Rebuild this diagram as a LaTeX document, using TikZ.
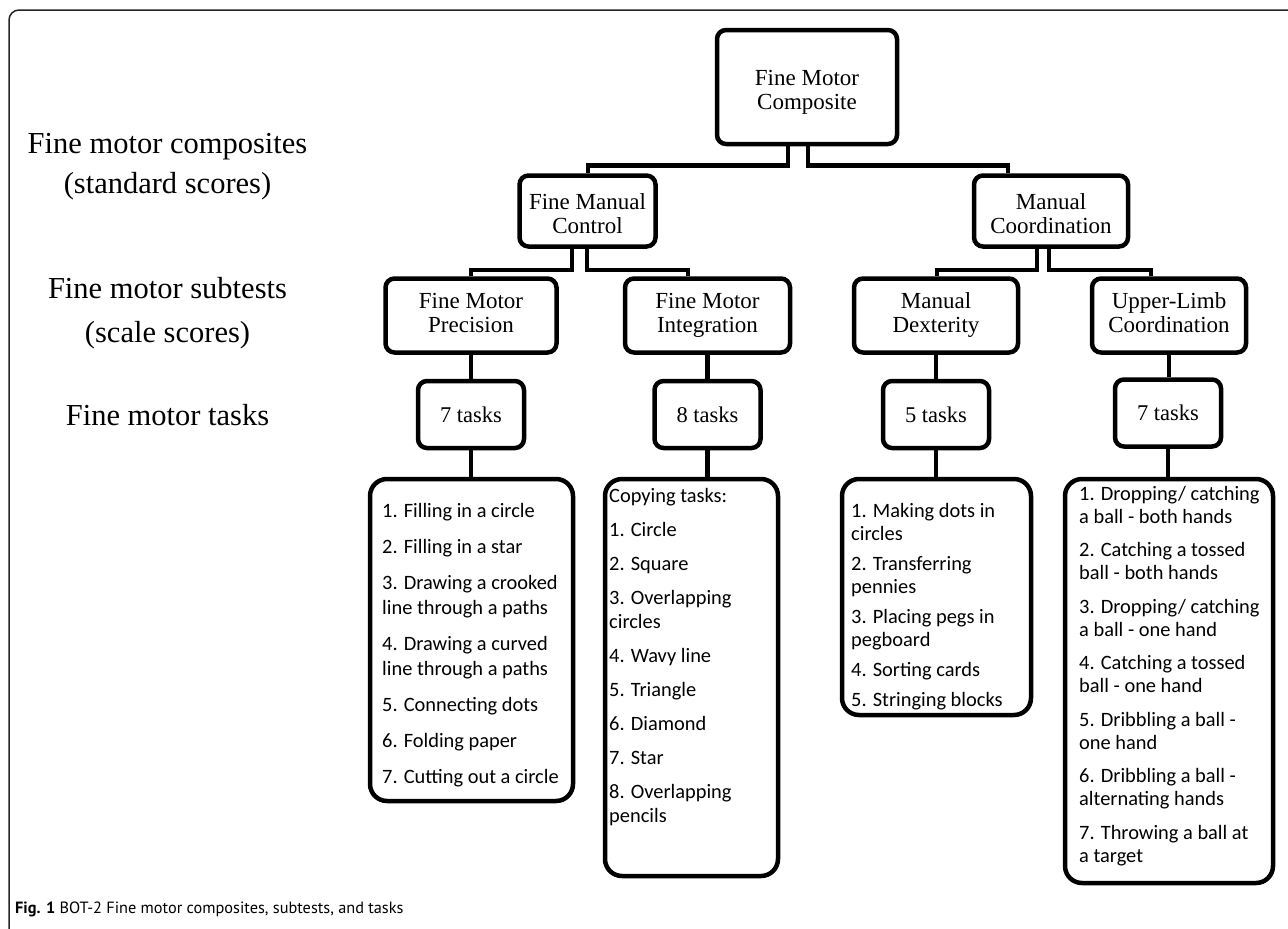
\documentclass[tikz,border=0pt]{standalone}
\usepackage{fontspec}
\setmainfont{Liberation Serif}
\newfontfamily\carlito{Carlito}
\newfontfamily\capfont{PT Sans}
\newcommand\bxstrut{\rule[-6pt]{0pt}{26pt}}
\newcommand\bxhigh{\rule{0pt}{26pt}}
\begin{document}
\begin{tikzpicture}[x=1pt,y=-1pt,
  box/.style={draw=black, line width=4.5pt, rounded corners=9pt, fill=white, inner sep=0pt,
    align=center, font=\fontsize{23}{24}\selectfont,
    execute at begin node=\bxstrut, execute at end node=\bxstrut},
  taskbox/.style={draw=black, line width=4.5pt, rounded corners=9pt, fill=white, inner sep=0pt,
    minimum width=106pt, minimum height=67pt, font=\fontsize{22.5}{24}\selectfont},
  listbox/.style={draw=black, line width=4.5pt, rounded corners=17pt, fill=white, inner sep=0pt},
  listtext/.style={anchor=north west, inner sep=0pt, align=left, font=\carlito\fontsize{20.4}{24}\selectfont},
  conn/.style={draw=black, line width=4.5pt},
  sidelabel/.style={anchor=base, inner sep=0pt, font=\fontsize{30.5}{34}\selectfont},
  frameline/.style={draw=black!85, line width=1.5pt, rounded corners=10pt}]
\useasboundingbox (0,0) rectangle (1288,929);
\fill[white] (0,0) rectangle (1288,929);
\draw[frameline] (9,929) -- (9,10) -- (1288,10);

% left labels
\node[sidelabel] (la1) at (167.5,153) {Fine motor composites};
\node[sidelabel] (la2) at (167.5,193) {(standard scores)};
\node[sidelabel] (lb1) at (167.5,298) {Fine motor subtests};
\node[sidelabel] (lb2) at (167.5,342) {(scale scores)};
\node[sidelabel] (lc1) at (167.5,425) {Fine motor tasks};

% hierarchy boxes
\node[box, minimum width=180pt, minimum height=114pt] (comp) at (807,87) {\bxhigh Fine Motor\\Composite};
\node[box, minimum width=136pt, minimum height=71pt] (fmc) at (587.5,211) {\bxhigh Fine Manual\\Control};
\node[box, minimum width=154pt, minimum height=71pt] (mc) at (1051,211) {\bxhigh Manual\\Coordination};
\node[box, minimum width=171pt, minimum height=74pt] (fmp) at (471,315.5) {Fine Motor\\Precision};
\node[box, minimum width=165pt, minimum height=74pt] (fmi) at (707.5,315.5) {Fine Motor\\Integration};
\node[box, minimum width=164pt, minimum height=74pt] (md) at (936,315.5) {Manual\\Dexterity};
\node[box, minimum width=154pt, minimum height=74pt] (ulc) at (1169,315.5) {Upper-Limb\\Coordination};

\node[taskbox] (t1) at (471,414.5) {7 tasks};
\node[taskbox] (t2) at (707.5,414.5) {8 tasks};
\node[taskbox] (t3) at (936,414.5) {5 tasks};
\node[taskbox] (t4) at (1168,413) {7 tasks};

% list boxes
\node[listbox, minimum width=203pt, minimum height=322pt] (L1) at (471.5,640) {};
\node[listbox, minimum width=173pt, minimum height=397pt] (L2) at (691.5,677.5) {};
\node[listbox, minimum width=189pt, minimum height=236pt] (L3) at (936.5,597) {};
\node[listbox, minimum width=208pt, minimum height=404pt] (L4) at (1169,681) {};

% connectors
\draw[conn] ([xshift=-19pt]comp.south) -- ++(0,19) -| ([xshift=0.5pt]fmc.north);
\draw[conn] ([xshift=1pt]comp.south) -- ++(0,19) -| ([xshift=-43pt]mc.north);
\draw[conn] ([xshift=-15.5pt]fmc.south) -- ++(0,21) -| (fmp.north);
\draw[conn] ([xshift=-0.5pt]fmc.south) -- ++(0,21) -| ([xshift=-19.5pt]fmi.north);
\draw[conn] ([xshift=-14pt]mc.south) -- ++(0,21) -| ([xshift=1pt]md.north);
\draw[conn] ([xshift=-2pt]mc.south) -- ++(0,21) -| ([xshift=-18pt]ulc.north);

\draw[conn] (fmp.south) -- (fmp.south |- t1.north);
\draw[conn] (fmi.south) -- (fmi.south |- t2.north);
\draw[conn] (md.south) -- (md.south |- t3.north);
\draw[conn] (ulc.south) -- (ulc.south |- t4.north);
\draw[conn] (t1.south) -- (t1.south |- L1.north);
\draw[conn] (t2.south) -- (t2.south |- L2.north);
\draw[conn] (t3.south) -- (t3.south |- L3.north);
\draw[conn] (t4.south) -- (t4.south |- L4.north);

% list texts
\node[listtext, font=\carlito\fontsize{20.4}{25}\selectfont] (x1) at (382,503) {1. Filling in a circle\\[11pt]
2. Filling in a star\\[11pt]
3. Drawing a crooked\\line through a paths\\[11pt]
4. Drawing a curved\\line through a paths\\[11pt]
5. Connecting dots\\[11pt]
6. Folding paper\\[11pt]
7. Cutting out a circle};

\node[listtext] (x2) at (609,488) {Copying tasks:\\[10pt]
1. Circle\\[10pt]
2. Square\\[10pt]
3. Overlapping\\circles\\[10pt]
4. Wavy line\\[10pt]
5. Triangle\\[10pt]
6. Diamond\\[10pt]
7. Star\\[10pt]
8. Overlapping\\pencils};

\node[listtext, font=\carlito\fontsize{20.4}{23}\selectfont] (x3) at (851,503) {1. Making dots in\\circles\\[7pt]
2. Transferring\\pennies\\[7pt]
3. Placing pegs in\\pegboard\\[7pt]
4. Sorting cards\\[7pt]
5. Stringing blocks};

\node[listtext, font=\carlito\fontsize{20.4}{23}\selectfont] (x4) at (1079,486) {1. Dropping/ catching\\a ball - both hands\\[10.5pt]
2. Catching a tossed\\ball - both hands\\[10.5pt]
3. Dropping/ catching\\a ball - one hand\\[10.5pt]
4. Catching a tossed\\ball - one hand\\[10.5pt]
5. Dribbling a ball -\\one hand\\[10.5pt]
6. Dribbling a ball -\\alternating hands\\[10.5pt]
7. Throwing a ball at\\a target};

% caption
\node[anchor=base west, inner sep=0pt, font=\capfont\fontsize{16.3}{20}\selectfont] (cap) at (15,913)
  {\textbf{Fig. 1} BOT-2 Fine motor composites, subtests, and tasks};
\end{tikzpicture}
\end{document}
